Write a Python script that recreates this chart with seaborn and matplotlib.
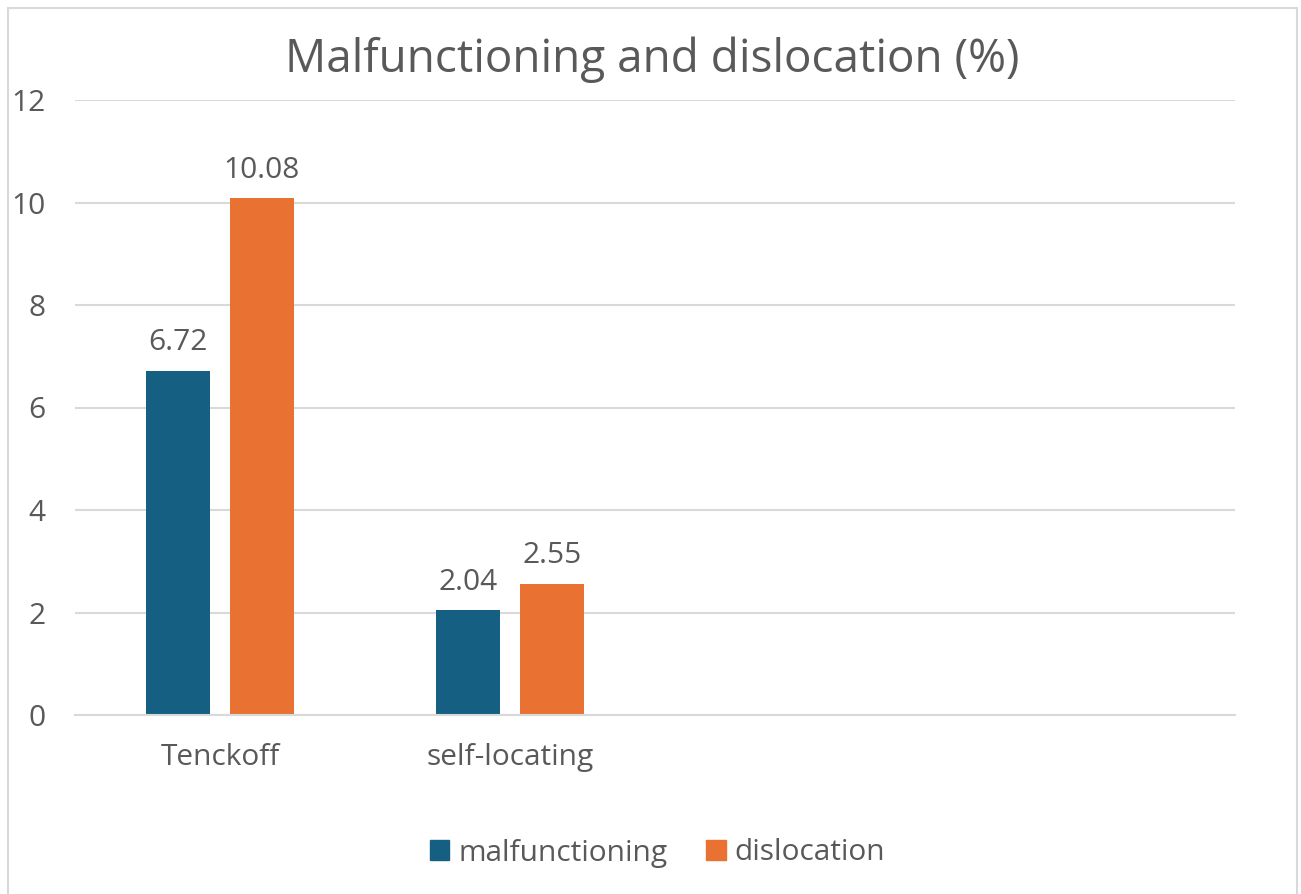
import matplotlib
matplotlib.use("Agg")
import matplotlib.pyplot as plt
import seaborn as sns
import pandas as pd
from matplotlib.patches import Rectangle

categories = ["Tenckoff", "self-locating"]
series = ["malfunctioning", "dislocation"]
malfunctioning = [6.72, 2.04]
dislocation = [10.08, 2.55]
yticks = [0, 2, 4, 6, 8, 10, 12]
title = "Malfunctioning and dislocation (%)"

colors = {"malfunctioning": "#156082", "dislocation": "#E97132"}
text_color = "#595959"
grid_color = "#D9D9D9"
fs = 21.5

df = pd.DataFrame({
    "category": categories * 2,
    "series": [series[0]] * len(categories) + [series[1]] * len(categories),
    "value": malfunctioning + dislocation,
})

sns.set_theme(style="white")
plt.rcParams["font.family"] = ["Open Sans", "DejaVu Sans"]

fig = plt.figure(figsize=(13.01, 8.94), dpi=100)
ax = fig.add_axes([75 / 1301, 179 / 894, 1160 / 1301, 615 / 894])

sns.barplot(data=df, x="category", y="value", hue="series", order=categories,
            hue_order=series, palette=colors, width=0.575, gap=0.23,
            ax=ax, legend=True, saturation=1, linewidth=0)

ax.set_xlim(-0.5, 3.5)
ax.set_ylim(0, 12)
ax.set_yticks(yticks)
ax.set_yticklabels([str(t) for t in yticks], fontsize=fs, color=text_color)
ax.set_xticks(range(len(categories)))
ax.set_xticklabels(categories, fontsize=fs, color=text_color)
ax.tick_params(axis="both", length=0)
ax.tick_params(axis="y", pad=21.5)
ax.tick_params(axis="x", pad=20)
ax.set_xlabel("")
ax.set_ylabel("")
ax.yaxis.grid(True, color=grid_color, linewidth=1.5)
ax.set_axisbelow(True)
for s in ["top", "right", "left"]:
    ax.spines[s].set_visible(False)
ax.spines["bottom"].set_color(grid_color)
ax.spines["bottom"].set_linewidth(1.5)

for cont in ax.containers:
    ax.bar_label(cont, fmt="%.2f", padding=10, fontsize=fs, color=text_color)

ax.get_legend().remove()
handles = [Rectangle((0, 0), 1, 1, color=colors[s]) for s in series]
fig.legend(handles, series, loc="center", bbox_to_anchor=(0.5 + 7 / 1301, 41 / 894),
           ncol=2, frameon=False, fontsize=fs, labelcolor=text_color,
           handlelength=0.65, handleheight=0.65, handletextpad=0.3, columnspacing=1.3)

fig.text(652 / 1301, 1 - 60 / 894, title, ha="center", va="center",
         fontsize=33, color=text_color)

fig.patches.append(Rectangle((8 / 1301, -0.01), 1289 / 1301, 1 - 8 / 894 + 0.01,
                             transform=fig.transFigure, fill=False,
                             edgecolor="#D9D9D9", linewidth=1.5))

fig.savefig("out.png", dpi=100, facecolor="white")
